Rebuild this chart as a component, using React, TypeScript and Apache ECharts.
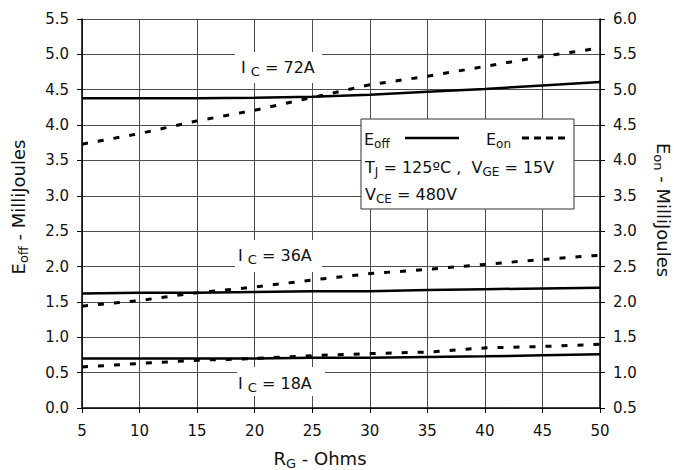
import React, { useEffect, useRef } from "react";
import * as echarts from "echarts";

// ---- data ----
const rg = [5, 10, 15, 20, 25, 30, 35, 40, 45, 50];
const eoff72 = [4.38, 4.38, 4.38, 4.385, 4.40, 4.43, 4.47, 4.51, 4.56, 4.61];
const eon72 = [4.23, 4.38, 4.56, 4.71, 4.89, 5.07, 5.19, 5.33, 5.47, 5.59];
const eoff36 = [1.62, 1.63, 1.63, 1.64, 1.65, 1.65, 1.67, 1.68, 1.69, 1.70];
const eon36 = [1.94, 2.02, 2.13, 2.21, 2.31, 2.40, 2.46, 2.53, 2.60, 2.66];
const eoff18 = [0.70, 0.70, 0.70, 0.70, 0.71, 0.71, 0.72, 0.73, 0.745, 0.76];
const eon18 = [1.08, 1.13, 1.175, 1.20, 1.24, 1.27, 1.29, 1.35, 1.37, 1.40];

const FONT = '"DejaVu Sans", "Liberation Sans", sans-serif';
const INK = "#111";
const GRID = "#4d4d4d";

const pairs = (ys: number[]) => rg.map((x, i) => [x, ys[i]]);

const rich = (main: number, sub: number, lh: number, subLh: number) => ({
  m: { fontSize: main, fontFamily: FONT, fill: INK, color: INK, lineHeight: lh, verticalAlign: "middle" },
  s: { fontSize: sub, fontFamily: FONT, fill: INK, color: INK, lineHeight: subLh, verticalAlign: "bottom" },
});

const text = (x: number, y: number, t: string, size: number, sub: number, extra: any = {}) => {
  const lh = Math.round(size * 1.3);
  const subLh = extra.subLh || Math.round(lh / 2);
  const { subLh: _omit, align, ...rest } = extra;
  return {
    type: "text",
    x,
    y,
    z: 12,
    ...rest,
    style: {
      text: t,
      rich: rich(size, sub, lh, subLh),
      align: align || "left",
      verticalAlign: "middle",
      fill: INK,
    },
  };
};

const whiteBox = (x: number, y: number, w: number, h: number) => ({
  type: "rect",
  z: 1,
  shape: { x, y, width: w, height: h },
  style: { fill: "#fff" },
});

const solid = { color: "#000", width: 2.5, type: "solid" as const };
const dashed = { color: "#000", width: 3, type: [6, 10] as any };

export default function App() {
  const ref = useRef<HTMLDivElement>(null);
  useEffect(() => {
    document.body.style.margin = "0";
    const chart = echarts.init(ref.current!, null, { renderer: "svg" });
    const axisLabel = { fontFamily: FONT, fontSize: 15, color: INK };
    const option: any = {
      animation: false,
      backgroundColor: "#fff",
      grid: { left: 82, right: 74, top: 19, bottom: 62 },
      xAxis: {
        type: "value",
        min: 5,
        max: 50,
        interval: 5,
        axisLine: { show: true, onZero: false, lineStyle: { color: "#000", width: 1.5 } },
        axisTick: { show: true, length: 5, lineStyle: { color: "#000" } },
        splitLine: { show: true, lineStyle: { color: GRID, width: 1 } },
        axisLabel: { ...axisLabel, margin: 15 },
      },
      yAxis: [
        {
          type: "value",
          position: "left",
          min: 0,
          max: 5.5,
          interval: 0.5,
          axisLine: { show: true, onZero: false, lineStyle: { color: "#000", width: 1.5 } },
          axisTick: { show: true, length: 5, lineStyle: { color: "#000" } },
          splitLine: { show: true, lineStyle: { color: GRID, width: 1 } },
          axisLabel: { ...axisLabel, margin: 13, formatter: (v: number) => v.toFixed(1) },
        },
        {
          type: "value",
          position: "right",
          min: 0.5,
          max: 6,
          interval: 0.5,
          axisLine: { show: true, onZero: false, lineStyle: { color: "#000", width: 1.5 } },
          axisTick: { show: true, length: 5, lineStyle: { color: "#000" } },
          splitLine: { show: false },
          axisLabel: { ...axisLabel, margin: 13, formatter: (v: number) => v.toFixed(1) },
        },
      ],
      series: [
        { type: "line", name: "Eoff 72A", yAxisIndex: 0, data: pairs(eoff72), symbol: "none", lineStyle: solid, z: 5 },
        { type: "line", name: "Eon 72A", yAxisIndex: 1, data: pairs(eon72), symbol: "none", lineStyle: dashed, z: 5 },
        { type: "line", name: "Eoff 36A", yAxisIndex: 0, data: pairs(eoff36), symbol: "none", lineStyle: solid, z: 5 },
        { type: "line", name: "Eon 36A", yAxisIndex: 1, data: pairs(eon36), symbol: "none", lineStyle: dashed, z: 5 },
        { type: "line", name: "Eoff 18A", yAxisIndex: 0, data: pairs(eoff18), symbol: "none", lineStyle: solid, z: 5 },
        { type: "line", name: "Eon 18A", yAxisIndex: 1, data: pairs(eon18), symbol: "none", lineStyle: dashed, z: 5 },
      ],
      graphic: [
        // current labels
        whiteBox(235, 52, 87, 31),
        whiteBox(235, 240, 87, 32),
        whiteBox(237, 367, 88, 29),
        text(241, 67.5, "{m|I }{s|C}{m| = 72A}", 16, 13),
        text(238, 255, "{m|I }{s|C}{m| = 36A}", 16, 13),
        text(238, 383.5, "{m|I }{s|C}{m| = 18A}", 16, 13),
        // legend box
        {
          type: "rect",
          z: 10,
          shape: { x: 361, y: 119, width: 213, height: 90 },
          style: { fill: "#fff", stroke: "#333", lineWidth: 1 },
        },
        text(364, 139, "{m|E}{s|off}", 16, 12),
        { type: "line", z: 12, shape: { x1: 405, y1: 138, x2: 459, y2: 138 }, style: { stroke: "#000", lineWidth: 2.5 } },
        text(486, 139, "{m|E}{s|on}", 16, 12),
        {
          type: "line",
          z: 12,
          shape: { x1: 522, y1: 138, x2: 570, y2: 138 },
          style: { stroke: "#000", lineWidth: 3, lineDash: [7, 5] },
        },
        text(365, 167.5, "{m|T}{s|J}{m| = 125ºC ,  V}{s|GE}{m| = 15V}", 16, 12),
        text(365, 194, "{m|V}{s|CE}{m| = 480V}", 16, 12),
        // axis names
        text(320, 458, "{m|R}{s|G}{m| - Ohms}", 18, 13, { align: "center", subLh: 14 }),
        text(18.5, 207, "{m|E}{s|off}{m| - MilliJoules}", 18, 13, { align: "center", rotation: Math.PI / 2 }),
        text(663, 210, "{m|E}{s|on}{m| - MilliJoules}", 18, 13, { align: "center", rotation: -Math.PI / 2 }),
      ],
    };
    chart.setOption(option);
    return () => chart.dispose();
  }, []);
  return <div ref={ref} style={{ width: 674, height: 470 }} />;
}
